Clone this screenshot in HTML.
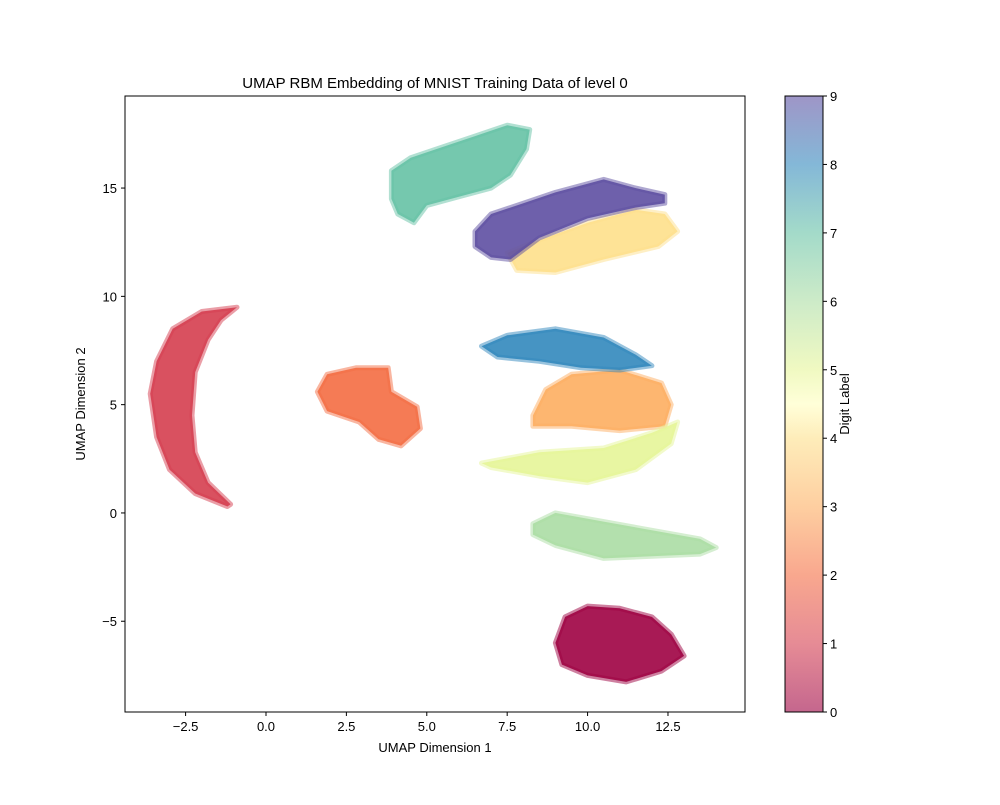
<!DOCTYPE html>
<html><head><meta charset="utf-8"><style>
body{margin:0;background:#fff;font-family:"Liberation Sans",sans-serif;}
svg text{font-family:"Liberation Sans",sans-serif;fill:#000;}
</style></head><body>
<svg id="chart" width="1000" height="800">
<defs><linearGradient id="spec" x1="0" y1="1" x2="0" y2="0">
<stop offset="0" stop-color="#9e0142"/><stop offset="0.111" stop-color="#d53e4f"/><stop offset="0.222" stop-color="#f46d43"/><stop offset="0.333" stop-color="#fdae61"/><stop offset="0.444" stop-color="#fee08b"/><stop offset="0.5" stop-color="#ffffbf"/><stop offset="0.556" stop-color="#e6f598"/><stop offset="0.667" stop-color="#abdda4"/><stop offset="0.778" stop-color="#66c2a5"/><stop offset="0.889" stop-color="#3288bd"/><stop offset="1" stop-color="#5e4fa2"/>
</linearGradient></defs>
<g id="clusters"></g>
<rect x="125" y="96" width="620" height="616" fill="none" stroke="#000" stroke-width="1"/>
<g id="axes"></g>
<text x="435" y="88" font-size="15" text-anchor="middle">UMAP RBM Embedding of MNIST Training Data of level 0</text>
<text x="435" y="752" font-size="13" text-anchor="middle">UMAP Dimension 1</text>
<text x="85" y="404" font-size="13" text-anchor="middle" transform="rotate(-90 85 404)">UMAP Dimension 2</text>
<rect x="785" y="96" width="38" height="616" fill="url(#spec)" opacity="0.6"/>
<rect x="785" y="96" width="38" height="616" fill="none" stroke="#000"/>
<g id="cbticks"></g>
<text x="849" y="404" font-size="13" text-anchor="middle" transform="rotate(-90 849 404)">Digit Label</text>
</svg>
<script>
const NS="http://www.w3.org/2000/svg";
const xTicks=[-2.5,0,2.5,5,7.5,10,12.5];
const xTickLabels=["−2.5","0.0","2.5","5.0","7.5","10.0","12.5"];
const yTicks=[-5,0,5,10,15];
const yTickLabels=["−5","0","5","10","15"];
const cbTicks=[0,1,2,3,4,5,6,7,8,9];
const labelColors=["#9e0142","#d53e4f","#f46d43","#fdae61","#fee08b","#e6f598","#abdda4","#66c2a5","#3288bd","#5e4fa2"];
const cluster0=[[9.0,-6.0],[9.3,-4.8],[10.0,-4.3],[11.0,-4.4],[12.0,-4.8],[12.6,-5.6],[13.0,-6.6],[12.3,-7.3],[11.2,-7.8],[10.0,-7.5],[9.2,-7.0]];
const cluster1=[[-0.9,9.5],[-2.0,9.3],[-2.9,8.5],[-3.4,7.0],[-3.6,5.5],[-3.4,3.5],[-3.0,2.0],[-2.2,0.9],[-1.2,0.3],[-1.1,0.4],[-1.8,1.4],[-2.2,2.8],[-2.3,4.5],[-2.2,6.5],[-1.8,8.0],[-1.4,8.9],[-0.9,9.5]];
const cluster2=[[1.6,5.6],[1.9,6.4],[2.8,6.7],[3.8,6.7],[3.9,5.6],[4.7,4.9],[4.8,3.9],[4.2,3.1],[3.5,3.4],[2.9,4.2],[1.9,4.7]];
const cluster3=[[8.3,4.5],[8.7,5.7],[9.5,6.4],[11.0,6.6],[12.3,6.0],[12.6,5.0],[12.4,4.0],[11.0,3.8],[9.5,4.0],[8.3,4.0]];
const cluster4=[[7.5,12.0],[8.5,12.6],[10.0,13.4],[11.5,14.0],[12.4,13.8],[12.8,13.0],[12.2,12.3],[10.5,11.7],[9.0,11.1],[7.8,11.2]];
const cluster5=[[6.7,2.3],[8.5,2.8],[10.5,3.0],[12.0,3.7],[12.8,4.2],[12.6,3.2],[11.5,2.0],[10.0,1.4],[8.5,1.7],[7.0,2.1]];
const cluster6=[[8.3,-0.5],[9.0,0.0],[10.5,-0.4],[12.0,-0.8],[13.5,-1.2],[14.0,-1.6],[13.5,-1.9],[12.0,-2.0],[10.5,-2.1],[9.0,-1.5],[8.3,-1.0]];
const cluster7=[[3.9,14.5],[3.9,15.8],[4.5,16.4],[5.5,16.9],[6.5,17.4],[7.5,17.9],[8.2,17.7],[8.1,16.8],[7.6,15.6],[7.0,15.0],[6.0,14.6],[5.0,14.2],[4.6,13.4],[4.1,13.8]];
const cluster8=[[6.7,7.7],[7.5,8.2],[9.0,8.5],[10.5,8.1],[11.5,7.3],[12.0,6.8],[11.0,6.6],[9.8,6.7],[8.5,7.0],[7.2,7.2]];
const cluster9=[[6.5,13.0],[7.0,13.8],[8.0,14.3],[9.0,14.8],[10.5,15.4],[11.5,15.0],[12.4,14.7],[12.4,14.3],[11.5,14.1],[10.0,13.6],[8.5,12.7],[7.6,11.7],[7.0,11.8],[6.5,12.3]];
const clusters=[cluster0,cluster1,cluster2,cluster3,cluster4,cluster5,cluster6,cluster7,cluster8,cluster9];
const X0=-4.384,X1=14.895,Y0=-9.19,Y1=19.25;
const sx=v=>125+(v-X0)/(X1-X0)*620;
const sy=v=>712-(v-Y0)/(Y1-Y0)*616;
const cy=v=>712-v/9*616;
function mk(t,a,p){const e=document.createElementNS(NS,t);for(const k in a)e.setAttribute(k,a[k]);p.appendChild(e);return e;}
const cg=document.getElementById('clusters');
clusters.forEach((c,i)=>{
 const p=mk('polygon',{points:c.map(q=>sx(q[0]).toFixed(1)+','+sy(q[1]).toFixed(1)).join(' '),fill:labelColors[i],stroke:labelColors[i],'stroke-width':5,'stroke-linejoin':'round','fill-opacity':0.9,'stroke-opacity':0.5},cg);
 
 
});
const ax=document.getElementById('axes');
xTicks.forEach((v,i)=>{
 const l=mk('line',{x1:sx(v),x2:sx(v),y1:712,y2:716,stroke:'#000'},ax);
 
 
 const t=mk('text',{x:sx(v),y:731,'font-size':13,'text-anchor':'middle'},ax);t.textContent=xTickLabels[i];
 
 
});
yTicks.forEach((v,i)=>{
 const l=mk('line',{x1:121,x2:125,y1:sy(v),y2:sy(v),stroke:'#000'},ax);
 
 
 const t=mk('text',{x:117,y:sy(v)+5,'font-size':13,'text-anchor':'end'},ax);t.textContent=yTickLabels[i];
 
 
});
const cb=document.getElementById('cbticks');
cbTicks.forEach(v=>{
 const l=mk('line',{x1:823,x2:827,y1:cy(v),y2:cy(v),stroke:'#000'},cb);
 
 
 const t=mk('text',{x:830,y:cy(v)+5,'font-size':13},cb);t.textContent=v;
 
 
});
</script>
</body></html>
